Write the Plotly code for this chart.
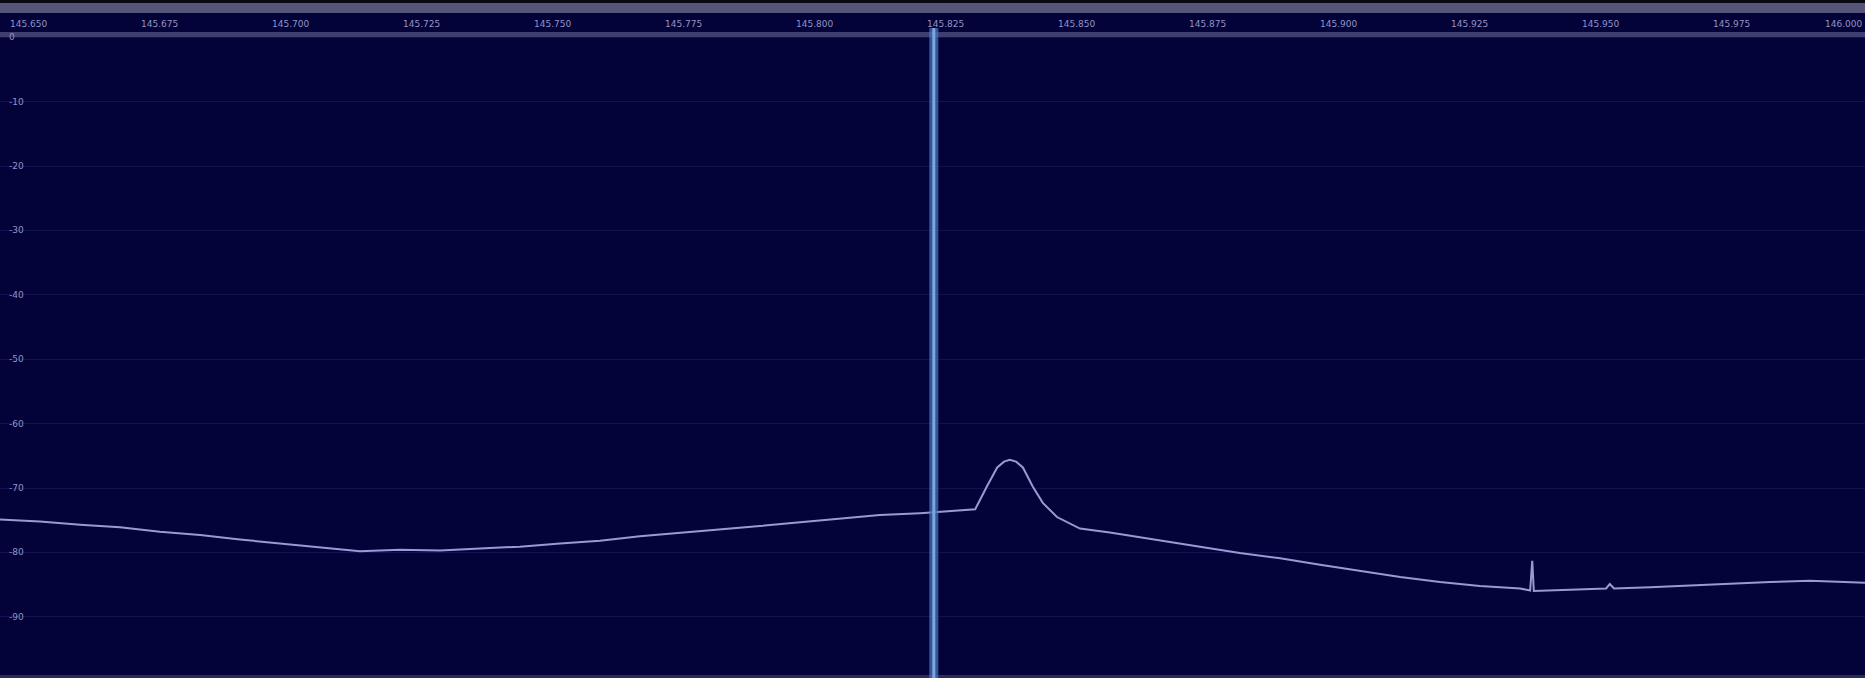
import plotly.graph_objects as go

# Spectrum trace: frequency (MHz) and power (dB)
freq_mhz = [
    145.6481, 145.6557, 145.6634, 145.6710, 145.6786, 145.6863, 145.6939, 145.7015,
    145.7092, 145.7168, 145.7244, 145.7321, 145.7397, 145.7473, 145.7550, 145.7626,
    145.7702, 145.7779, 145.7855, 145.7931, 145.8008, 145.8084, 145.8160, 145.8237,
    145.8294, 145.8342, 145.8364, 145.8384, 145.8397, 145.8408, 145.8420, 145.8433,
    145.8452, 145.8471, 145.8498, 145.8542, 145.8599, 145.8656, 145.8714, 145.8771,
    145.8847, 145.8924, 145.9000, 145.9076, 145.9153, 145.9229, 145.9305, 145.9382,
    145.9401, 145.9405, 145.9408, 145.9477, 145.9546, 145.9553, 145.9561, 145.9630,
    145.9706, 145.9782, 145.9859, 145.9935, 146.0040,
]
power_db = [
    -74.9, -75.2, -75.7, -76.1, -76.8, -77.3, -78.0, -78.6,
    -79.3, -79.8, -79.6, -79.7, -79.4, -79.1, -78.6, -78.2,
    -77.5, -77.0, -76.4, -75.9, -75.3, -74.8, -74.2, -73.9,
    -73.6, -73.3, -69.8, -66.8, -65.9, -65.6, -65.9, -66.8,
    -69.8, -72.3, -74.5, -76.3, -76.9, -77.6, -78.4, -79.1,
    -80.1, -80.9, -81.9, -82.9, -83.8, -84.6, -85.2, -85.6,
    -85.9, -81.3, -86.0, -85.8, -85.6, -84.9, -85.6, -85.4,
    -85.1, -84.9, -84.6, -84.4, -84.7,
]

# Frequency scale ticks (MHz) and level scale ticks (dB)
freq_ticks = [145.650, 145.675, 145.700, 145.725, 145.750, 145.775, 145.800, 145.825,
              145.850, 145.875, 145.900, 145.925, 145.950, 145.975, 146.000]
freq_labels = ["145.650", "145.675", "145.700", "145.725", "145.750", "145.775", "145.800",
               "145.825", "145.850", "145.875", "145.900", "145.925", "145.950", "145.975",
               "146.000"]
db_ticks = [0, -10, -20, -30, -40, -50, -60, -70, -80, -90]
db_labels = ["0", "-10", "-20", "-30", "-40", "-50", "-60", "-70", "-80", "-90"]

tuned_freq = 145.8263
x_range = [145.6481, 146.0040]
y_range = [-99.5, 0.2]

BG = "#03033a"
TEXT = "#9494c4"
PLOT_H = 642  # plot area height in px, used to place header items in paper units

fig = go.Figure()

fig.add_trace(go.Scatter(
    x=freq_mhz, y=power_db, mode="lines",
    line=dict(color="#9a9ad2", width=2),
    hoverinfo="x+y", showlegend=False,
))

shapes = [
    # header bar above the spectrum
    dict(type="rect", xref="paper", yref="paper", x0=0, x1=1, y0=1.0 + 33 / PLOT_H, y1=1.0 + 37 / PLOT_H,
         fillcolor="#0a0a16", line=dict(width=0), layer="below"),
    dict(type="rect", xref="paper", yref="paper", x0=0, x1=1, y0=1.0 + 23 / PLOT_H, y1=1.0 + 33 / PLOT_H,
         fillcolor="#55557a", line=dict(width=0), layer="below"),
    # separator line between header and spectrum
    dict(type="rect", xref="paper", yref="paper", x0=0, x1=1, y0=1.0 - 1 / PLOT_H, y1=1.0 + 4 / PLOT_H,
         fillcolor="#3e3e70", line=dict(width=0)),
    # bottom edge
    dict(type="rect", xref="paper", yref="paper", x0=0, x1=1, y0=0, y1=3 / PLOT_H,
         fillcolor="#2c2c58", line=dict(width=0)),
    # tuned frequency cursor
    dict(type="line", xref="x", yref="paper", x0=tuned_freq, x1=tuned_freq, y0=0, y1=1.0 + 8 / PLOT_H,
         line=dict(color="rgba(70,115,185,0.75)", width=9)),
    dict(type="line", xref="x", yref="paper", x0=tuned_freq, x1=tuned_freq, y0=0, y1=1.0 + 8 / PLOT_H,
         line=dict(color="#7ea6de", width=3)),
]

annotations = []
last = len(freq_ticks) - 1
for i, (f, lab) in enumerate(zip(freq_ticks, freq_labels)):
    at_edge = i == last
    annotations.append(dict(
        x=1.0 if at_edge else f, xref="paper" if at_edge else "x",
        y=1.0 + 5 / PLOT_H, yref="paper", text=lab, showarrow=False,
        xanchor="right" if at_edge else "left", yanchor="bottom",
        xshift=-1 if at_edge else -2,
        font=dict(family="DejaVu Sans", size=9, color=TEXT),
    ))
for v, lab in zip(db_ticks, db_labels):
    annotations.append(dict(
        x=0.0035, y=v, xref="paper", yref="y", text=lab, showarrow=False,
        xanchor="left", yanchor="middle",
        font=dict(family="DejaVu Sans", size=9, color=TEXT),
    ))

fig.update_layout(
    width=1865, height=678,
    margin=dict(l=0, r=0, t=36, b=0),
    paper_bgcolor=BG, plot_bgcolor=BG,
    shapes=shapes, annotations=annotations,
    xaxis=dict(range=x_range, showgrid=False, zeroline=False, showticklabels=False,
               ticks="", fixedrange=True),
    yaxis=dict(range=y_range, tickvals=db_ticks, showticklabels=False, ticks="",
               showgrid=True, gridcolor="#121250", gridwidth=1, zeroline=False, fixedrange=True),
    showlegend=False,
)

fig.write_html("out.html", config={"displayModeBar": False})
